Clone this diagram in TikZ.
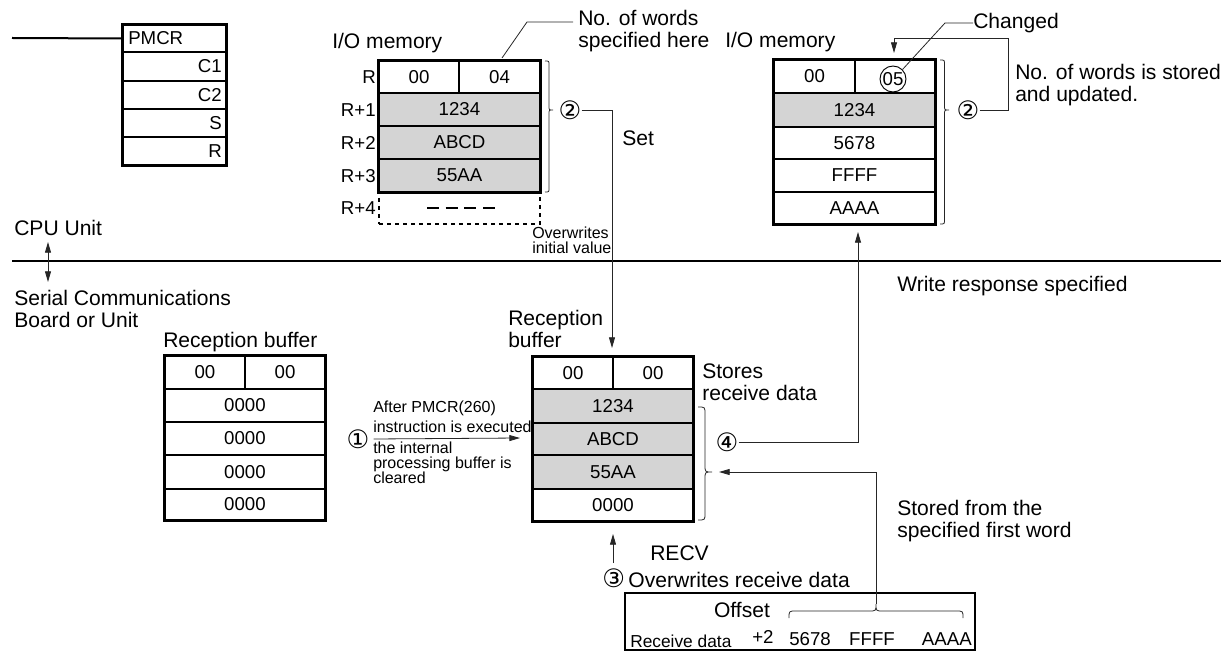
\documentclass[tikz,border=0pt]{standalone}
\usepackage{fontspec}
\setmainfont{Liberation Sans}
\newfontfamily\dejavu{DejaVu Sans}
\usetikzlibrary{arrows.meta}
\newcommand\fbig{\fontsize{15.8}{16.5}\selectfont}
\newcommand\ftbl{\fontsize{14}{16}\selectfont}
\newcommand\fsmall{\fontsize{12}{11.3}\selectfont}
\newcommand\fcirc{\dejavu\fontsize{19}{20}\selectfont}
\newcommand\mycell[7][]{\node[cellbox,#1,minimum width={(#5-#3)*0.75pt},minimum height={(#6-#4)*0.75pt}] (#2) at ({(#3+#5)/2},{(#4+#6)/2}) {#7};}
\newcommand\vbrace[5]{\draw[bracestyle] (#1,#2) .. controls ({#1+#5/2},#2) .. ({#1+#5/2},{#2+#5/2}) -- ({#1+#5/2},{#3-#5/2}) .. controls ({#1+#5/2},#3) .. ({#1+#5},#3) .. controls ({#1+#5/2},#3) .. ({#1+#5/2},{#3+#5/2}) -- ({#1+#5/2},{#4-#5/2}) .. controls ({#1+#5/2},#4) .. (#1,#4);}
\newcommand\hbrace[5]{\draw[bracestyle] (#1,#4) .. controls (#1,{#4-#5/2}) .. ({#1+#5/2},{#4-#5/2}) -- ({#2-#5/2},{#4-#5/2}) .. controls (#2,{#4-#5/2}) .. (#2,{#4-#5}) .. controls (#2,{#4-#5/2}) .. ({#2+#5/2},{#4-#5/2}) -- ({#3-#5/2},{#4-#5/2}) .. controls (#3,{#4-#5/2}) .. (#3,#4);}
\tikzset{
  cellbox/.style={draw, line width=0.8pt, inner sep=0pt, font=\ftbl},
  shaded/.style={fill=black!17},
  frame/.style={draw, line width=1.5pt},
  lbl/.style={font=\fbig, inner sep=0pt, align=left},
  tbl/.style={font=\ftbl, inner sep=0pt},
  small/.style={font=\fsmall, inner sep=0pt, align=left},
  circnum/.style={font=\fcirc, inner sep=0pt},
  conn/.style={line width=0.6pt, black!85},
  bracestyle/.style={line width=0.6pt, black!85},
  >={Triangle[length=8pt,width=4.5pt]},
}
\begin{document}
\begin{tikzpicture}[x=0.75pt,y=-0.75pt]
\useasboundingbox (0,0) rectangle (1221,652);

% ---------------- PMCR ----------------
\mycell{pm}{123}{25}{226}{52}{}
\mycell{pc1}{123}{52}{226}{81}{}
\mycell{pc2}{123}{81}{226}{109}{}
\mycell{ps}{123}{109}{226}{137}{}
\mycell{pr}{123}{137}{226}{165}{}
\draw[frame] (pm.north west) rectangle (pr.south east);
\node[tbl, anchor=west] (pmt) at (128,38) {PMCR};
\node[tbl, anchor=east] (pc1t) at (222,66) {C1};
\node[tbl, anchor=east] (pc2t) at (222,95) {C2};
\node[tbl, anchor=east] (pst) at (222,123) {S};
\node[tbl, anchor=east] (prt) at (222,151) {R};
\coordinate (lstart) at (12,38);
\draw[line width=1.5pt] (lstart) -- (pm.west);

% ---------------- left I/O memory ----------------
\node[lbl, anchor=west] (iol) at (332,43) {I/O memory};
\mycell{m1a}{379}{61}{459}{93}{00}
\mycell{m1b}{459}{61}{540}{93}{04}
\mycell[shaded]{m2}{379}{93}{540}{126}{1234}
\mycell[shaded]{m3}{379}{126}{540}{159}{ABCD}
\mycell[shaded]{m4}{379}{159}{540}{192}{55AA}
\mycell[dashed, line width=0.8pt]{m5}{379}{192}{540}{224}{}
\draw[frame] (m1a.north west) rectangle (m4.south east);
\coordinate (d1) at (427,208);
\coordinate (d2) at (495,208);
\draw[line width=1pt, dash pattern=on 9pt off 5pt] (d1) -- (d2);
\node[tbl, anchor=east] (rl0) at (376,77) {R};
\node[tbl, anchor=east] (rl1) at (376,110) {R+1};
\node[tbl, anchor=east] (rl2) at (376,143) {R+2};
\node[tbl, anchor=east] (rl3) at (376,176) {R+3};
\node[tbl, anchor=east] (rl4) at (376,208) {R+4};
\node[small, anchor=west] (ovr) at (532,240) {Overwrites\\initial value};
\vbrace{545}{61}{110}{192}{8}
\node[circnum] (two1) at (570,110) {②};
\node[lbl, anchor=west] (setl) at (622,138) {Set};
\node[lbl, anchor=west] (nowords) at (578,31) {No. of words\\specified here};
\coordinate (ld0) at (502,58);
\coordinate (ld1) at (527,22);
\coordinate (ld2) at (573,22);
\draw[conn] (ld0) -- (ld1) -- (ld2);

% ---------------- right I/O memory ----------------
\node[lbl, anchor=west] (ior) at (725,42) {I/O memory};
\mycell{n1a}{774}{60}{855}{93}{00}
\mycell{n1b}{855}{60}{935}{93}{}
\mycell[shaded]{n2}{774}{93}{935}{127}{1234}
\mycell{n3}{774}{127}{935}{159}{5678}
\mycell{n4}{774}{159}{935}{192}{FFFF}
\mycell{n5}{774}{192}{935}{224}{AAAA}
\draw[frame] (n1a.north west) rectangle (n5.south east);
\node[circle, draw, line width=0.7pt, minimum size=19.5pt, inner sep=0pt, font=\ftbl] (c05) at (893,79) {05};
\vbrace{940}{60}{110}{224}{9}
\node[circnum] (two2) at (968,110) {②};
\coordinate (k1) at (1008,38);
\coordinate (n05tip) at (894,53);
\draw[conn,->] (two2.east) -| (k1) -| (n05tip);
\node[lbl, anchor=west] (changed) at (973,23) {Changed};
\coordinate (cg1) at (945,23);
\draw[conn] (c05.north east) -- (cg1) -- (changed.west);
\node[lbl, anchor=west] (nostored) at (1015,85) {No. of words is stored\\and updated.};

% ---------------- CPU / serial division ----------------
\node[lbl, anchor=west] (cpu) at (14,228) {CPU Unit};
\coordinate (hl1) at (12,261);
\coordinate (hl2) at (1221,261);
\draw[line width=2pt] (hl1) -- (hl2);
\coordinate (cpa) at (48,242);
\coordinate (cpb) at (48,282);
\draw[conn,<->] (cpa) -- (cpb);
\node[lbl, anchor=west] (serial) at (14,309) {Serial Communications\\Board or Unit};
\node[lbl, anchor=west] (wresp) at (897,286) {Write response specified};

% ---------------- left reception buffer ----------------
\node[lbl, anchor=west] (rbl) at (163,342) {Reception buffer};
\mycell{a1a}{165}{356}{245}{389}{00}
\mycell{a1b}{245}{356}{325}{389}{00}
\mycell{a2}{165}{389}{325}{422}{0000}
\mycell{a3}{165}{422}{325}{455}{0000}
\mycell{a4}{165}{455}{325}{489}{0000}
\mycell{a5}{165}{489}{325}{520}{0000}
\draw[frame] (a1a.north west) rectangle (a5.south east);
\node[circnum] (one) at (358,439) {①};
\coordinate (a1e) at (520,438);
\draw[conn,->] ([xshift=3pt]one.east) -- (a1e);
\node[small, anchor=west, font=\fontsize{12}{15}\selectfont] (after) at (373,417) {After PMCR(260)\\instruction is executed};
\node[small, anchor=west] (internal) at (373,463) {the internal\\processing buffer is\\cleared};

% ---------------- middle reception buffer ----------------
\node[lbl, anchor=west] (rbm) at (508,329) {Reception\\buffer};
\mycell{b1a}{533}{357}{613}{389}{00}
\mycell{b1b}{613}{357}{693}{389}{00}
\mycell[shaded]{b2}{533}{389}{693}{423}{1234}
\mycell[shaded]{b3}{533}{423}{693}{455}{ABCD}
\mycell[shaded]{b4}{533}{455}{693}{489}{55AA}
\mycell{b5}{533}{489}{693}{521}{0000}
\draw[frame] (b1a.north west) rectangle (b5.south east);
\node[lbl, anchor=west] (stores) at (702,382) {Stores\\receive data};
\coordinate (rbtip) at (612,348);
\draw[conn,->] (two1.east) -| (rbtip);
\vbrace{698}{407}{472}{520}{14}
\node[circnum] (four) at (727,442) {④};
\coordinate (n5tip) at (858,232);
\draw[conn,->] (four.east) -| (n5tip);

% ---------------- RECV ----------------
\coordinate (r3s) at (613,563);
\coordinate (r3e) at (613,534);
\draw[conn,->] (r3s) -- (r3e);
\node[lbl, anchor=west] (recv) at (650,553) {RECV};
\node[lbl, anchor=west] (ovrecv) at (602,578) {{\fcirc ③}\,Overwrites receive data};

% ---------------- bottom box ----------------
\node[draw, line width=1.3pt, minimum width={350*0.75pt}, minimum height={57*0.75pt}, inner sep=0pt] (rbox) at (800,621.5) {};
\node[lbl] (offset) at (742,610) {Offset};
\node[small, anchor=west, font=\fontsize{13}{14}\selectfont] (rdata) at (630,641) {Receive data};
\node[tbl, anchor=west] (plus2) at (752,637) {+2};
\node[tbl, anchor=west] (d5678) at (789,639) {5678};
\node[tbl, anchor=center] (dffff) at (872,639) {FFFF};
\node[tbl, anchor=east] (daaaa) at (972,639) {AAAA};
\hbrace{789}{876}{963}{618}{14}
\coordinate (bbtip) at (876,604);
\coordinate (btip) at (719,472);
\draw[conn,->] (bbtip) |- (btip);
\node[lbl, anchor=west] (storedfrom) at (897,521) {Stored from the\\specified first word};
\end{tikzpicture}
\end{document}
